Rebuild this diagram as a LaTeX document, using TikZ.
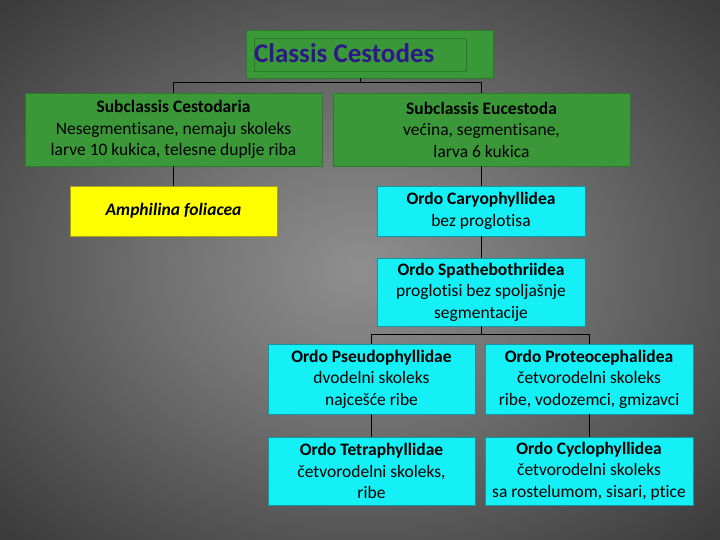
\documentclass[tikz,border=0pt]{standalone}
\usepackage{fontspec}
\setmainfont{Carlito}[Ligatures=NoCommon]
\definecolor{bgA}{gray}{0.56}
\definecolor{bgB}{gray}{0.44}
\definecolor{bgC}{gray}{0.24}
\definecolor{bgD}{gray}{0.10}
\definecolor{bgE}{gray}{0.03}
\definecolor{grn}{RGB}{58,152,56}
\definecolor{grnB}{RGB}{44,120,44}
\definecolor{cyn}{RGB}{20,240,245}
\definecolor{cynB}{RGB}{20,150,160}
\definecolor{ylw}{RGB}{255,255,0}
\definecolor{ylwB}{RGB}{170,160,20}
\definecolor{ttl}{RGB}{46,24,135}
\pgfdeclareradialshading{bgshade}{\pgfpoint{0bp}{0bp}}{color(0bp)=(bgA); color(14bp)=(bgB); color(34bp)=(bgC); color(50bp)=(bgD); color(72bp)=(bgE)}
\tikzset{
  box/.style={draw, line width=0.8pt, align=center, inner sep=0pt, font=\fontsize{17.5}{21.5}\selectfont},
  gbox/.style={box, fill=grn, draw=grnB},
  cbox/.style={box, fill=cyn, draw=cynB},
  ybox/.style={box, fill=ylw, draw=ylwB},
  link/.style={draw=black, line width=0.9pt}
}
\begin{document}
\begin{tikzpicture}[x=1pt,y=-1pt]
\useasboundingbox (0,0) rectangle (720,540);
\shade[shading=bgshade] (0,0) rectangle (720,540);
% title
\node[gbox, minimum width=247, minimum height=48] (title) at (369.5,54) {};
\node[draw=grnB, line width=0.6pt, minimum width=212, minimum height=33, inner sep=0pt] (inner) at (360,54.5) {};
\node[anchor=west, inner sep=0pt, text=ttl, font=\fontsize{27}{30}\selectfont\bfseries] (ttltext) at (254,53) {Classis Cestodes};
% level 1
\node[gbox, minimum width=297, minimum height=73] (subL) at (173.5,129.5)
  {\textbf{Subclassis Cestodaria}\\Nesegmentisane, nemaju skoleks\\larve 10 kukica, telesne duplje riba};
\node[gbox, minimum width=297, minimum height=73] (subR) at (481.5,129.5)
  {\textbf{Subclassis Eucestoda}\\većina, segmentisane,\\larva 6 kukica};
% level 2
\node[ybox, minimum width=207, minimum height=50] (amph) at (173.5,211)
  {\textbf{\textit{Amphilina foliacea}}};
\node[cbox, minimum width=208, minimum height=50] (cary) at (481,211)
  {\textbf{Ordo Caryophyllidea}\\bez proglotisa};
\node[cbox, minimum width=208, minimum height=68] (spath) at (481,292)
  {\textbf{Ordo Spathebothriidea}\\proglotisi bez spoljašnje\\segmentacije};
\node[cbox, minimum width=207, minimum height=70] (pseudo) at (371.5,379)
  {\textbf{Ordo Pseudophyllidae}\\dvodelni skoleks\\najcešće ribe};
\node[cbox, minimum width=208, minimum height=70] (proteo) at (589,379)
  {\textbf{Ordo Proteocephalidea}\\četvorodelni skoleks\\ribe, vodozemci, gmizavci};
\node[cbox, minimum width=207, minimum height=68] (tetra) at (371.5,471)
  {\textbf{Ordo Tetraphyllidae}\\četvorodelni skoleks,\\ribe};
\node[cbox, minimum width=208, minimum height=68] (cyclo) at (589,471)
  {\textbf{Ordo Cyclophyllidea}\\četvorodelni skoleks\\sa rostelumom, sisari, ptice};
% connectors
\coordinate (j1) at (360,82);
\coordinate (j2) at (481,334);
\draw[link] (title.south -| j1) -- (j1) -| (subL.north);
\draw[link] (j1) -| (subR.north);
\draw[link] (subL.south) -- (amph.north);
\draw[link] (subR.south -| cary.north) -- (cary.north);
\draw[link] (cary.south) -- (spath.north);
\draw[link] (spath.south) -- (j2) -| (pseudo.north);
\draw[link] (j2) -| (proteo.north);
\draw[link] (pseudo.south) -- (tetra.north);
\draw[link] (proteo.south) -- (cyclo.north);
\end{tikzpicture}
\end{document}
